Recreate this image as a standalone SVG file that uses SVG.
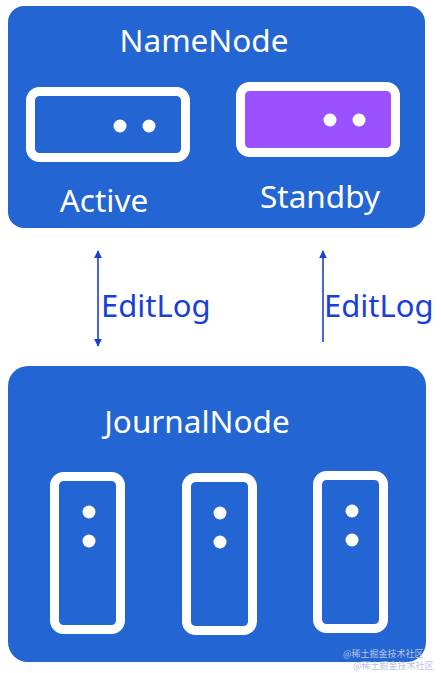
<svg xmlns="http://www.w3.org/2000/svg" width="441" height="673" viewBox="0 0 441 673">
<style>
.panel{fill:#2365d3}
.box{fill:#2365d3;stroke:#fff;stroke-width:9}
.dot{fill:#fff}
.lbl{font-family:"Noto Sans","Open Sans",sans-serif;fill:#fff;font-size:31.5px}
.edge{stroke:#1a3fd8;stroke-width:1.6;fill:none}
.elbl{font-family:"Noto Sans","Open Sans",sans-serif;fill:#1a3fd8;font-size:31px}
.wm{font-family:"Noto Sans CJK SC",sans-serif;font-size:9px;fill:#b8c4dc}
</style>
<defs>
<marker id="ah" viewBox="0 0 10 10" refX="9" refY="5" markerWidth="8" markerHeight="9" orient="auto-start-reverse" markerUnits="userSpaceOnUse">
<path d="M0,0 L10,5 L0,10 z" fill="#1a3fd8"/>
</marker>
</defs>
<rect width="441" height="673" fill="#fff"/>
<g id="namenode">
<rect class="panel" x="8" y="6" width="417" height="222" rx="16"/>
<text class="lbl" x="204" y="52" text-anchor="middle">NameNode</text>
</g>
<g id="active">
<rect class="box" x="30.5" y="91.5" width="155" height="66" rx="9"/>
<circle class="dot" cx="120" cy="126" r="6.5"/>
<circle class="dot" cx="149" cy="126" r="6.5"/>
<text class="lbl" x="104" y="212" text-anchor="middle">Active</text>
</g>
<g id="standby">
<rect class="box" x="240.5" y="86.5" width="155" height="66" rx="9" style="fill:#9b51fd"/>
<circle class="dot" cx="330" cy="120" r="6.5"/>
<circle class="dot" cx="359" cy="120" r="6.5"/>
<text class="lbl" x="320" y="208" text-anchor="middle">Standby</text>
</g>
<g id="journalnode">
<rect class="panel" x="8" y="366" width="418" height="296" rx="20"/>
<text class="lbl" x="197" y="433" text-anchor="middle">JournalNode</text>
</g>
<g id="jn1">
<rect class="box" x="54.5" y="476.5" width="66" height="153" rx="9"/>
<circle class="dot" cx="89" cy="512" r="6.5"/>
<circle class="dot" cx="89" cy="541" r="6.5"/>
</g>
<g id="jn2">
<rect class="box" x="186.5" y="477.5" width="66" height="153" rx="9"/>
<circle class="dot" cx="220" cy="513" r="6.5"/>
<circle class="dot" cx="220" cy="542" r="6.5"/>
</g>
<g id="jn3">
<rect class="box" x="317.5" y="475.5" width="66" height="153" rx="9"/>
<circle class="dot" cx="352" cy="511" r="6.5"/>
<circle class="dot" cx="352" cy="540" r="6.5"/>
</g>
<g id="connectors">
<line class="edge" x1="98" y1="346" x2="98" y2="251" marker-start="url(#ah)" marker-end="url(#ah)"/>
<line class="edge" x1="323" y1="342" x2="323" y2="251" marker-end="url(#ah)"/>
<text class="elbl" x="101" y="317">EditLog</text>
<text class="elbl" x="324" y="317">EditLog</text>
</g>
<text class="wm" x="343" y="657">@稀土掘金技术社区</text>
<text class="wm" x="353" y="669">@稀土掘金技术社区</text>
</svg>
